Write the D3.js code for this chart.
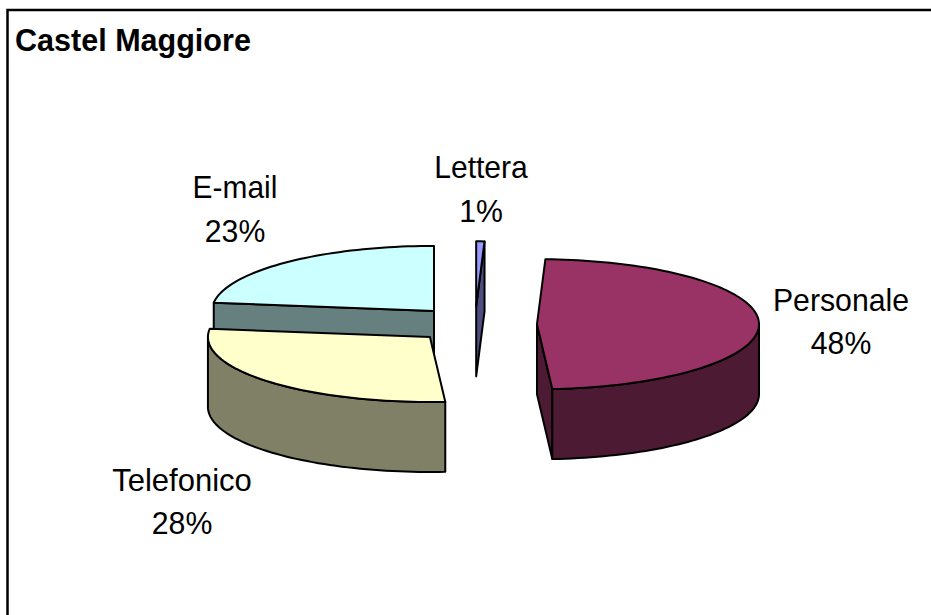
<!doctype html>
<html lang="en">

<head>
    <meta charset="utf-8">
    <title>Castel Maggiore</title>
    <script src="https://cdn.jsdelivr.net/npm/d3@7"></script>
    <style>
        html, body {
            margin: 0;
            background: #ffffff;
        }

        svg {
            display: block;
        }
    </style>
</head>

<body>
    <svg></svg>
    <script>
        var categories = ["Lettera", "Personale", "Telefonico", "E-mail"];
        var percentages = [0.6, 48.3, 28.1, 23.0];
        var topColors = ["#9999ff", "#993366", "#ffffcc", "#ccffff"];
        var wallColors = ["#4d4d80", "#4d1a33", "#808066", "#668080"];

        var width = 931;
        var height = 615;
        var centerX = 475;
        var centerY = 324.5;
        var radiusX = 222;
        var radiusY = 65;
        var depth = 70;
        var explode = 62 / 222;

        var svg = d3.select('svg').attr('width', width).attr('height', height);

        // frame
        svg.append('path')
            .attr('d', 'M7.5,615V10H931')
            .attr('fill', 'none')
            .attr('stroke', '#000')
            .attr('stroke-width', 2.5);

        svg.append('text')
            .text('Castel Maggiore')
            .attr('transform', 'translate(15, 51) scale(0.955, 1)')
            .attr('font-family', 'Liberation Sans')
            .attr('font-size', '32px')
            .attr('font-weight', 'bold');

        var pie = d3.pie().sort(null).value(function (d) { return d; });
        var arcs = pie(percentages);

        var xScale = d3.scaleLinear().domain([-1, 1]).range([centerX - radiusX, centerX + radiusX]);
        var yScale = d3.scaleLinear().domain([-1, 1]).range([centerY + radiusY, centerY - radiusY]);
        var line = d3.line();

        // point on the pie for angle a (clockwise from the top), r is 1 on the rim
        function point(a, r, mid, drop) {
            return [
                xScale(r * Math.sin(a) + explode * Math.sin(mid)),
                yScale(r * Math.cos(a) + explode * Math.cos(mid)) + drop
            ];
        }

        function rim(a0, a1, mid, drop) {
            var n = Math.max(2, Math.ceil((a1 - a0) / 0.03));
            return d3.range(n + 1).map(function (i) {
                return point(a0 + (a1 - a0) * i / n, 1, mid, drop);
            });
        }

        function cutFace(a, mid) {
            return [
                point(a, 0, mid, 0),
                point(a, 1, mid, 0),
                point(a, 1, mid, depth),
                point(a, 0, mid, depth)
            ];
        }

        function drawFace(points, color) {
            svg.append('path')
                .attr('d', line(points) + 'Z')
                .attr('fill', color)
                .attr('stroke', '#000')
                .attr('stroke-width', 2)
                .attr('stroke-linejoin', 'round');
        }

        // back slices first so the nearer ones cover them
        [3, 2, 0, 1].forEach(function (i) {
            var d = arcs[i];
            var mid = (d.startAngle + d.endAngle) / 2;

            if (Math.sin(d.startAngle) < -0.001) drawFace(cutFace(d.startAngle, mid), wallColors[i]);
            if (Math.sin(d.endAngle) > 0.001) drawFace(cutFace(d.endAngle, mid), wallColors[i]);

            // front part of the rim, between 90 and 270 degrees
            var a0 = Math.max(d.startAngle, Math.PI / 2);
            var a1 = Math.min(d.endAngle, Math.PI * 1.5);
            if (a1 > a0) {
                drawFace(rim(a0, a1, mid, 0).concat(rim(a0, a1, mid, depth).reverse()), wallColors[i]);
            }

            drawFace([point(0, 0, mid, 0)].concat(rim(d.startAngle, d.endAngle, mid, 0)), topColors[i]);
        });

        // labels: name on one line, percentage on the next
        var labelX = d3.scaleOrdinal().domain(categories).range([481, 841, 182, 235]);
        var labelY = d3.scaleOrdinal().domain(categories).range([178, 311, 491, 198]);
        var lineGap = d3.scaleOrdinal().domain(categories).range([44, 43, 43, 44]);
        // the original text is a bit narrower than the font
        var squash = d3.scaleOrdinal().domain(categories).range([0.94, 0.945, 0.97, 0.935]);

        categories.forEach(function (name, i) {
            var label = svg.append('g')
                .attr('transform', 'translate(' + labelX(name) + ', ' + labelY(name) + ')')
                .attr('text-anchor', 'middle')
                .attr('font-family', 'Liberation Sans')
                .attr('font-size', '32px');
            label.append('text')
                .attr('transform', 'scale(' + squash(name) + ', 1)')
                .text(name);
            label.append('text')
                .attr('transform', 'scale(0.945, 1)')
                .attr('y', lineGap(name))
                .text(Math.round(percentages[i]) + '%');
        });
    </script>

</body>

</html>
